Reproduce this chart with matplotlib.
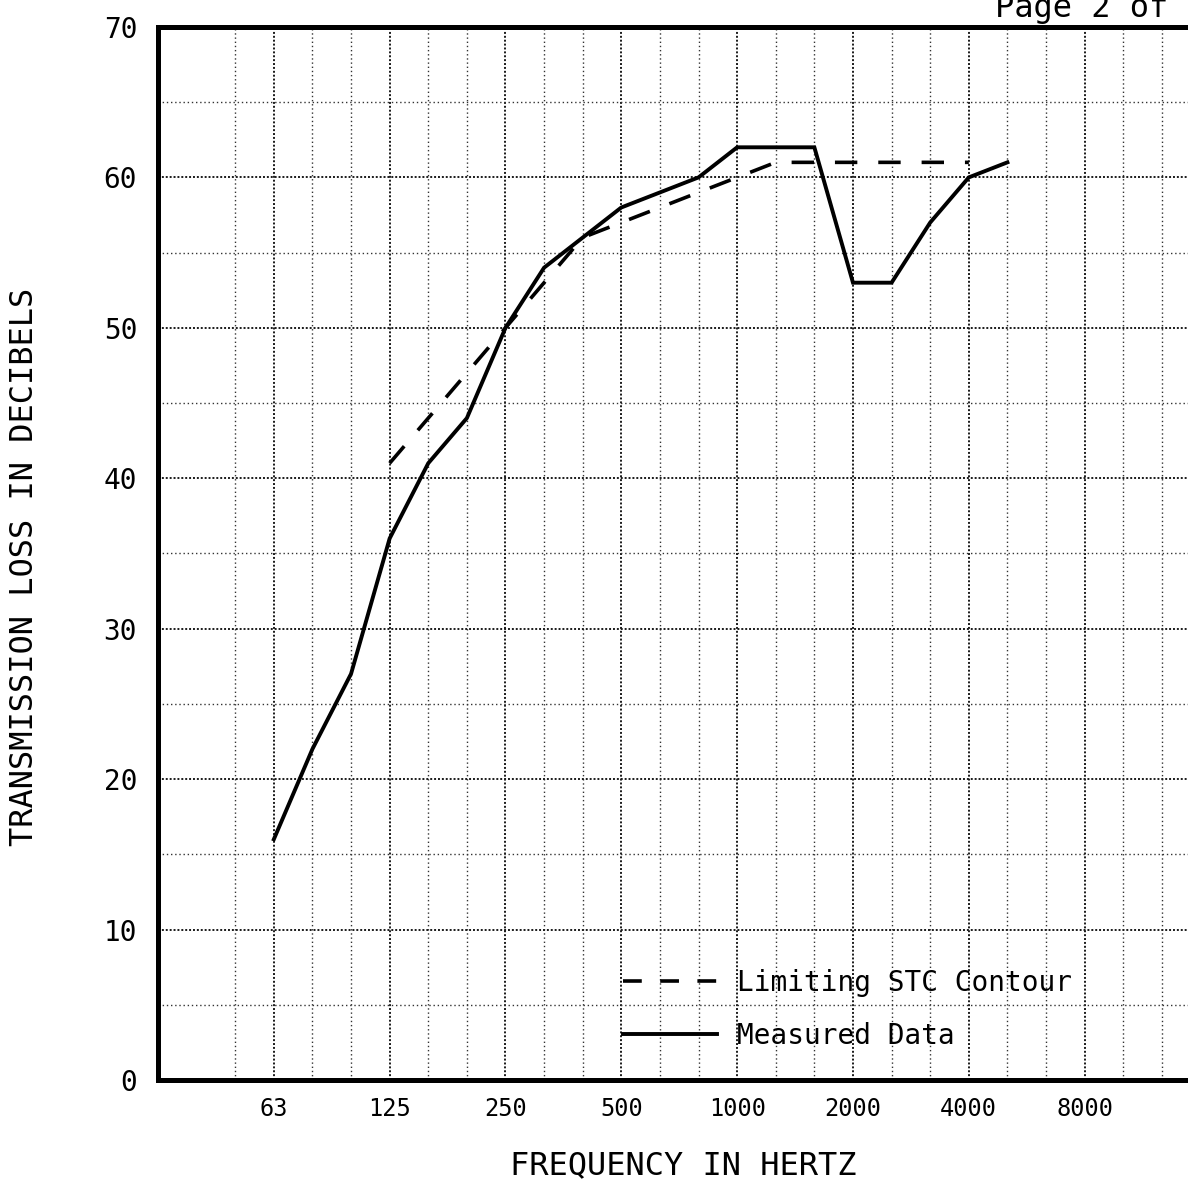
import matplotlib
matplotlib.use("Agg")
import matplotlib.pyplot as plt
from matplotlib.lines import Line2D
import numpy as np

# one-third octave bands, 63 Hz .. 5000 Hz
bands = [63, 80, 100, 125, 160, 200, 250, 315, 400, 500, 630, 800,
         1000, 1250, 1600, 2000, 2500, 3150, 4000, 5000]
measured = [16, 22, 27, 36, 41, 44, 50, 54, 56, 58, 59, 60,
            62, 62, 62, 53, 53, 57, 60, 61]

stc_bands = [125, 160, 200, 250, 315, 400, 500, 630, 800, 1000,
             1250, 1600, 2000, 2500, 3150, 4000]
stc_contour = [41, 44, 47, 50, 53, 56, 57, 58, 59, 60,
               61, 61, 61, 61, 61, 61]

octave_labels = ["63", "125", "250", "500", "1000", "2000", "4000", "8000"]

FONT = "DejaVu Sans Mono"
plt.rcParams['font.family'] = [FONT]


def band_pos(f):
    # position in third-octave steps, 63 Hz = 0
    return np.round(3 * np.log2(np.array(f) / 63.0))


W, H = 1188, 1182
fig = plt.figure(figsize=(W / 100, H / 100), dpi=100)
ax_w, ax_h = 0.910, 0.8909
ax = fig.add_axes([158 / W, 102 / H, ax_w, ax_h])

ax.set_xlim(-3, 25)
ax.set_ylim(0, 70)

# grid
ax.set_xticks(np.arange(0, 22, 3))
ax.set_xticklabels(octave_labels)
ax.set_xticks(np.arange(-1, 25, 1), minor=True)
ax.set_yticks(np.arange(0, 71, 10))
ax.set_yticks(np.arange(0, 71, 5), minor=True)
ax.grid(True, which='minor', color='0.2', linestyle=(0, (1, 2)), linewidth=1.0)
ax.grid(True, which='major', color='0.1', linestyle=(0, (1, 1)), linewidth=1.4)
ax.set_axisbelow(True)

ax.plot(band_pos(stc_bands), stc_contour, color='black', linewidth=2.6,
        dashes=(6.2, 5.8))
ax.plot(band_pos(bands), measured, color='black', linewidth=2.8,
        solid_joinstyle='miter')

for side in ['left', 'bottom', 'top']:
    ax.spines[side].set_linewidth(3.6)
ax.spines['right'].set_visible(False)

ax.tick_params(axis='both', which='both', length=0)
ax.tick_params(axis='y', labelsize=20, pad=15)
ax.tick_params(axis='x', labelsize=17, pad=12)

ax.set_xlabel('FREQUENCY IN HERTZ', fontsize=23)
ax.set_ylabel('TRANSMISSION LOSS IN DECIBELS', fontsize=23)
ax.xaxis.set_label_coords((683 - 158) / (W * ax_w), -(1150 - 1080) / (H * ax_h))
ax.yaxis.set_label_coords(-(158 - 40) / (W * ax_w), (1080 - 567) / (H * ax_h))

handles = [Line2D([], [], color='black', linewidth=2.6, dashes=(5.2, 5.1)),
           Line2D([], [], color='black', linewidth=2.8)]
ax.legend(handles, ['Limiting STC Contour', 'Measured Data'],
          loc='lower left', bbox_to_anchor=((622 - 158 - 24) / (W * ax_w), 0.005),
          frameon=False, fontsize=20, handlelength=3.4, handletextpad=0.7,
          labelspacing=0.9)

fig.text(995 / W, 1 - 17 / H, 'Page 2 of 2', fontsize=23,
         ha='left', va='baseline')

fig.savefig('out.png', dpi=100)
